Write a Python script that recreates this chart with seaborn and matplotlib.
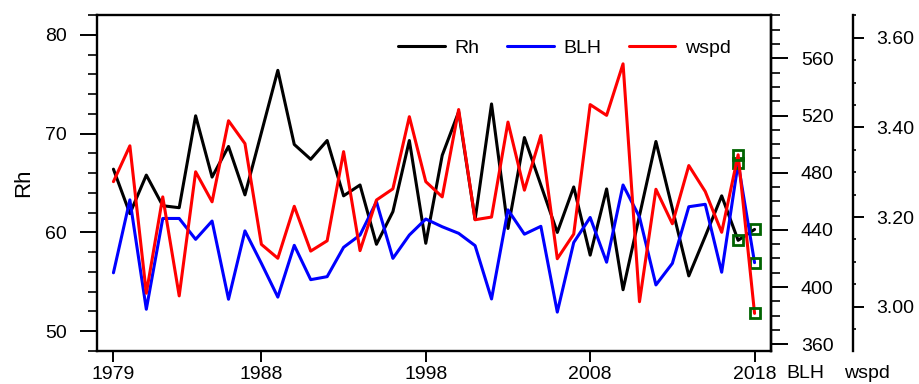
import numpy as np
import pandas as pd
import seaborn as sns
import matplotlib.pyplot as plt
from matplotlib.lines import Line2D
from matplotlib.ticker import MultipleLocator, FormatStrFormatter

years = list(range(1979, 2019))
rh = [66.4, 61.9, 65.8, 62.7, 62.5, 71.8, 65.6, 68.7, 63.8, 70.1,
      76.4, 68.9, 67.4, 69.3, 63.7, 64.8, 58.8, 62.1, 69.3, 58.9,
      67.8, 72.2, 61.3, 73.0, 60.4, 69.6, 64.8, 60.0, 64.6, 57.7,
      64.4, 54.2, 61.7, 69.2, 62.4, 55.6, 59.6, 63.7, 59.2, 60.3]
blh = [410.0, 461.0, 384.5, 448.0, 448.0, 433.4, 446.2, 391.5, 439.3, 416.6,
       393.0, 429.2, 405.2, 407.3, 427.8, 436.4, 459.7, 420.1, 436.4, 447.6,
       442.2, 437.6, 429.0, 391.7, 454.0, 437.0, 442.5, 382.5, 431.2, 448.7,
       417.4, 471.4, 449.0, 401.5, 416.6, 456.2, 457.9, 410.4, 486.6, 417.1]
wspd = [3.279, 3.359, 3.030, 3.245, 3.024, 3.301, 3.234, 3.415, 3.364, 3.139,
        3.108, 3.224, 3.124, 3.147, 3.346, 3.125, 3.238, 3.263, 3.424, 3.279,
        3.245, 3.440, 3.194, 3.200, 3.412, 3.260, 3.382, 3.107, 3.162, 3.451,
        3.427, 3.542, 3.011, 3.262, 3.185, 3.315, 3.257, 3.166, 3.339, 2.985]
xticks = [1979, 1988, 1998, 2008, 2018]

df = pd.DataFrame({'year': years, 'Rh': rh, 'BLH': blh, 'wspd': wspd})
last = df.tail(2)

sns.set_style('ticks')
plt.rcParams['font.family'] = ['Liberation Sans', 'DejaVu Sans']
plt.rcParams.update({'text.color': 'black', 'axes.labelcolor': 'black',
                     'xtick.color': 'black', 'ytick.color': 'black',
                     'axes.edgecolor': 'black'})
fs = 14
lw = 2.2
green = '#006400'

fig = plt.figure(figsize=(9.19, 3.84), dpi=100)
ax = fig.add_axes([97/919, 1 - 351/384, 674/919, 336/384])
ax2 = ax.twinx()
ax3 = ax.twinx()
ax3.spines['right'].set_position(('axes', (852.5 - 97) / 674))

# lines
sns.lineplot(data=df, x='year', y='Rh', ax=ax, color='black', lw=lw, legend=False)
sns.lineplot(data=df, x='year', y='BLH', ax=ax2, color='blue', lw=lw, legend=False)
sns.lineplot(data=df, x='year', y='wspd', ax=ax3, color='red', lw=lw, legend=False)

# green squares on the last two years
for a, col in [(ax, 'Rh'), (ax2, 'BLH'), (ax3, 'wspd')]:
    a.plot(last['year'], last[col], ls='none', marker='s', ms=6.5,
           mfc='none', mec=green, mew=2.0, zorder=5)

# axes limits
ax.set_xlim(1978, 2019)
ax.set_ylim(48, 82)
ax2.set_ylim(355.3, 590.3)
ax3.set_ylim(2.901, 3.651)

# spines
for s in ax.spines.values():
    s.set_linewidth(1.7)
for s in ['top', 'bottom', 'left']:
    ax2.spines[s].set_visible(False)
    ax3.spines[s].set_visible(False)
ax2.spines['right'].set_linewidth(1.7)
ax3.spines['right'].set_linewidth(1.7)

# left axis
ax.set_xticks(xticks)
ax.set_xticklabels([str(y) for y in xticks])
ax.yaxis.set_major_locator(MultipleLocator(10))
ax.yaxis.set_minor_locator(MultipleLocator(2))
ax.tick_params(axis='x', which='major', direction='out', length=8, width=1.4,
               labelsize=fs, pad=3, top=False)
ax.tick_params(axis='x', which='minor', bottom=False, top=False)
ax.tick_params(axis='y', which='major', direction='out', length=12.5, width=1.4,
               labelsize=fs, pad=9, right=False)
ax.tick_params(axis='y', which='minor', direction='out', length=6.5, width=1.2,
               right=False)
ax.set_xlabel('')
ax.set_ylabel('Rh', fontsize=16, labelpad=8)

# BLH axis
ax2.yaxis.set_major_locator(MultipleLocator(40))
ax2.yaxis.set_minor_locator(MultipleLocator(10))
ax2.tick_params(axis='y', which='major', direction='out', length=12.5, width=1.4,
                labelsize=fs, pad=9)
ax2.tick_params(axis='y', which='minor', direction='out', length=6.5, width=1.2)
ax2.set_ylabel('')

# wspd axis
ax3.yaxis.set_major_locator(MultipleLocator(0.2))
ax3.yaxis.set_minor_locator(MultipleLocator(0.05))
ax3.yaxis.set_major_formatter(FormatStrFormatter('%.2f'))
ax3.tick_params(axis='y', which='major', direction='out', length=8, width=1.4,
                labelsize=fs, pad=9)
ax3.tick_params(axis='y', which='minor', direction='out', length=2.5, width=1.2)
ax3.set_ylabel('')

# axis names under the right axes
fig.text(805 / 919, 1 - 374 / 384, 'BLH', fontsize=fs, ha='center', va='center')
fig.text(867 / 919, 1 - 373 / 384, 'wspd', fontsize=fs, ha='center', va='center')

# legend
handles = [Line2D([], [], color='black', lw=lw),
           Line2D([], [], color='blue', lw=lw),
           Line2D([], [], color='red', lw=lw)]
ax3.legend(handles, ['Rh', 'BLH', 'wspd'], loc='center left',
           bbox_to_anchor=(0.447, 0.902), ncol=3, frameon=False, fontsize=fs,
           handlelength=2.4, handletextpad=0.5, columnspacing=1.4,
           borderaxespad=0, borderpad=0)

fig.savefig('out.png', dpi=100)
